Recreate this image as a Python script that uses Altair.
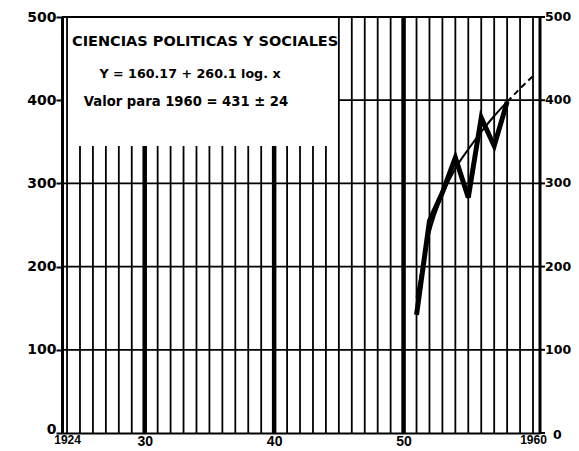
import altair as alt
import pandas as pd

# ---- data ----
obs_years = [1951, 1952, 1953, 1954, 1955, 1956, 1957, 1958]
obs_values = [142, 255, 289, 331, 283, 379, 345, 398]

fit_years = [1951, 1952, 1953, 1954, 1955, 1956, 1957, 1958, 1959, 1960]
fit_values = [163, 240, 286, 318, 341, 362, 381, 398, 414, 429]

# vertical grid lines: short ones stop below the text box
short_years = [1925, 1926, 1927, 1928, 1929, 1931, 1932, 1933, 1934, 1935, 1936,
               1937, 1938, 1939, 1941, 1942, 1943, 1944]
thick_short_years = [1930, 1940]
full_years = [1924, 1945, 1946, 1947, 1948, 1949, 1951, 1952, 1953, 1954, 1955,
              1956, 1957, 1958, 1959, 1960]
thick_full_years = [1950]
short_top = 345
full_top = 500

h_full_levels = [100, 200, 300, 500]
h_partial_levels = [400]
h_partial_start = [1945]

x_ticks = [1924, 1930, 1940, 1950, 1960]
y_ticks = [0, 100, 200, 300, 400, 500]

title_lines = ["CIENCIAS POLITICAS Y SOCIALES",
               "Y = 160.17 + 260.1 log. x",
               "Valor para 1960 = 431 ± 24"]

W, H = 478, 416
FONT = "DejaVu Sans"
XFONT = "Liberation Sans"

xscale = alt.Scale(domain=[1923.61, 1960.54], nice=False, zero=False)
yscale = alt.Scale(domain=[0, 500], nice=False)

x_axis = alt.Axis(
    values=x_ticks, title=None, grid=False, domain=True, domainWidth=2,
    domainColor="black", ticks=False,
    labelExpr="datum.value == 1924 ? '1924' : datum.value == 1960 ? '1960' : format(datum.value % 100, 'd')",
    labelFont=XFONT, labelFontWeight="bold", labelColor="black",
    labelFontSize={"condition": {"test": "datum.value == 1924 || datum.value == 1960", "value": 12},
                   "value": 14},
    labelPadding=1, labelFlush=False)
y_axis = alt.Axis(
    values=y_ticks, orient="left", title=None, grid=False, domain=True,
    domainWidth=3, domainColor="black", tickSize=6, tickWidth=2, tickColor="black",
    labelFont=FONT, labelFontWeight="bold", labelFontSize=14, labelColor="black",
    labelOffset={"condition": {"test": "datum.value == 0", "value": -4}, "value": 0},
    labelPadding=0, labelFlush=False)

def X(field):
    return alt.X(field, scale=xscale, axis=x_axis)

def Y(field):
    return alt.Y(field, scale=yscale, axis=y_axis)

def vdf(years, top):
    return pd.DataFrame({"year": years, "y0": [0] * len(years), "y1": [top] * len(years)})

def vrules(df, width):
    return alt.Chart(df).mark_rule(color="black", strokeWidth=width).encode(
        x=X("year:Q"), y=Y("y0:Q"), y2="y1:Q")

v_short = vrules(vdf(short_years, short_top), 1.8)
v_short_thick = vrules(vdf(thick_short_years, short_top), 4.5)
v_full = vrules(vdf(full_years, full_top), 1.8)
v_full_thick = vrules(vdf(thick_full_years, full_top), 4.5)

h_full = alt.Chart(pd.DataFrame({"lvl": h_full_levels})).mark_rule(
    color="black", strokeWidth=1.8).encode(
    y=Y("lvl:Q"), x=alt.value(0), x2=alt.value(W))
h_part = alt.Chart(pd.DataFrame({"lvl": h_partial_levels, "start": h_partial_start})).mark_rule(
    color="black", strokeWidth=1.8).encode(
    y=Y("lvl:Q"), x=X("start:Q"), x2=alt.value(W))

# right-hand axis (line, ticks, labels) driven by the y scale
right_df = pd.DataFrame({"v": y_ticks})
r_line = alt.Chart(pd.DataFrame({"a": [0], "b": [500]})).mark_rule(
    color="black", strokeWidth=3).encode(x=alt.value(W), y=Y("a:Q"), y2="b:Q")
r_ticks = alt.Chart(right_df).mark_rule(color="black", strokeWidth=2).encode(
    y=Y("v:Q"), x=alt.value(W), x2=alt.value(W + 5))
r_labels = alt.Chart(right_df[right_df.v > 0]).mark_text(
    font=FONT, fontWeight="bold", fontSize=12.5, align="left", baseline="middle",
    color="black").encode(y=Y("v:Q"), x=alt.value(W + 5), text="v:Q")
r_label0 = alt.Chart(right_df[right_df.v == 0]).mark_text(
    font=FONT, fontWeight="bold", fontSize=12.5, align="left", baseline="middle",
    color="black", dx=8, dy=2).encode(y=Y("v:Q"), x=alt.value(W + 5), text="v:Q")

obs_df = pd.DataFrame({"year": obs_years, "value": obs_values})
fit_df = pd.DataFrame({"year": fit_years, "value": fit_values})

obs_line = alt.Chart(obs_df).mark_line(color="black", strokeWidth=5, strokeJoin="miter").encode(
    x=X("year:Q"), y=Y("value:Q"))
fit_solid = alt.Chart(fit_df[fit_df.year <= 1958]).mark_line(
    color="black", strokeWidth=2, interpolate="monotone").encode(
    x=X("year:Q"), y=Y("value:Q"))
fit_dash = alt.Chart(fit_df[fit_df.year >= 1958]).mark_line(
    color="black", strokeWidth=2, strokeDash=[6, 4], interpolate="monotone").encode(
    x=X("year:Q"), y=Y("value:Q"))

# text box
t1 = alt.Chart(pd.DataFrame({"t": [title_lines[0]]})).mark_text(
    font=FONT, fontWeight="bold", fontSize=14.5, align="left", baseline="alphabetic",
    color="black").encode(text="t:N", x=alt.value(10), y=alt.value(29))
t2 = alt.Chart(pd.DataFrame({"t": [title_lines[1]]})).mark_text(
    font=FONT, fontWeight="bold", fontSize=12.7, align="center", baseline="alphabetic",
    color="black").encode(text="t:N", x=alt.value(128), y=alt.value(61))
t3 = alt.Chart(pd.DataFrame({"t": [title_lines[2]]})).mark_text(
    font=FONT, fontWeight="bold", fontSize=13.2, align="center", baseline="alphabetic",
    color="black").encode(text="t:N", x=alt.value(124), y=alt.value(89))

chart = alt.layer(
    v_short, v_short_thick, v_full, v_full_thick, h_full, h_part,
    r_line, r_ticks, r_labels, r_label0, fit_solid, fit_dash, obs_line, t1, t2, t3,
).properties(
    width=W, height=H,
    autosize=alt.AutoSizeParams(type="none"),
    padding={"left": 54, "top": 9, "right": 31, "bottom": 20},
).configure_view(stroke=None).configure(background="white")

chart.save("out.html", embed_options={"renderer": "svg", "actions": False})
